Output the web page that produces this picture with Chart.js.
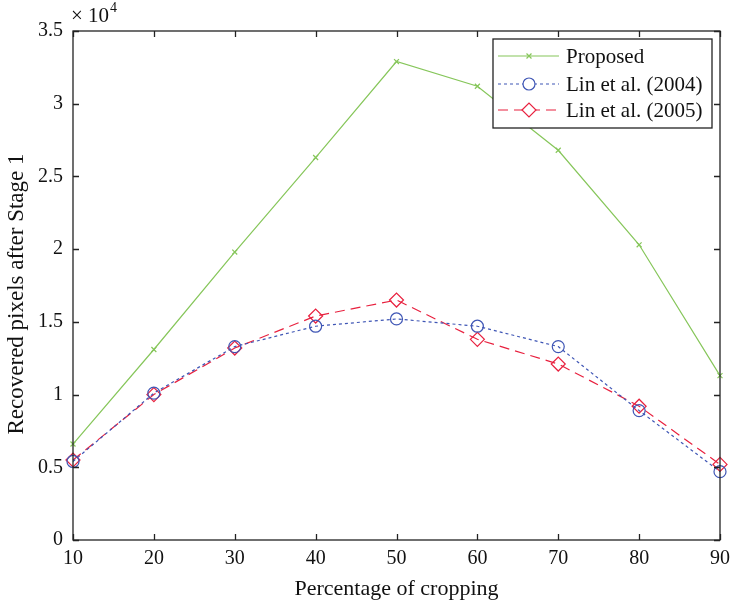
<!DOCTYPE html>
<html>
<head>
<meta charset="utf-8">
<script src="https://cdn.jsdelivr.net/npm/chart.js@4.4.1/dist/chart.umd.min.js"></script>
<style>
  html, body { margin: 0; padding: 0; background: #ffffff; }
  #wrap { width: 732px; height: 606px; position: relative; }
</style>
</head>
<body>
<div id="wrap"><canvas id="c" width="732" height="606"></canvas></div>
<script>
// Cropping percentage on the x axis
const cropping = [10, 20, 30, 40, 50, 60, 70, 80, 90];

// Recovered pixels after stage 1 for each method
const proposed = [6600, 13100, 19800, 26300, 32900, 31200, 26800, 20300, 11300];
const lin2004 = [5400, 10100, 13300, 14700, 15200, 14700, 13300, 8900, 4700];
const lin2005 = [5500, 10000, 13200, 15400, 16500, 13800, 12100, 9200, 5200];

// Axis tick labels (y shown in units of 10^4)
const xTickLabels = ['10', '20', '30', '40', '50', '60', '70', '80', '90'];
const yTickLabels = ['0', '0.5', '1', '1.5', '2', '2.5', '3', '3.5'];

const seriesNames = ['Proposed', 'Lin et al. (2004)', 'Lin et al. (2005)'];
const yTitle = 'Recovered pixels after Stage 1';

const FONT = "'Liberation Serif', 'Times New Roman', serif";
const GREEN = '#86c65a';
const BLUE = '#3f56b5';
const RED = '#e8213f';

const toPoints = vals => vals.map((v, i) => ({ x: cropping[i], y: v }));

// Frame, inward tick marks, y title, exponent label and boxed legend
const matlabFrame = {
  id: 'matlabFrame',
  afterDatasetsDraw(chart) {
    const ctx = chart.ctx;
    const a = chart.chartArea;
    const xs = chart.scales.x, ys = chart.scales.y;
    ctx.save();
    ctx.strokeStyle = '#222222';
    ctx.lineWidth = 1.3;
    ctx.setLineDash([]);
    ctx.strokeRect(a.left, a.top, a.right - a.left, a.bottom - a.top);
    const tl = 6;
    ctx.beginPath();
    xs.ticks.forEach(t => {
      const px = Math.round(xs.getPixelForValue(t.value)) + 0.5;
      ctx.moveTo(px, a.bottom); ctx.lineTo(px, a.bottom - tl);
      ctx.moveTo(px, a.top); ctx.lineTo(px, a.top + tl);
    });
    ys.ticks.forEach(t => {
      const py = Math.round(ys.getPixelForValue(t.value)) + 0.5;
      ctx.moveTo(a.left, py); ctx.lineTo(a.left + tl, py);
      ctx.moveTo(a.right, py); ctx.lineTo(a.right - tl, py);
    });
    ctx.stroke();

    // y axis title
    ctx.save();
    ctx.translate(17, 294);
    ctx.rotate(-Math.PI / 2);
    ctx.fillStyle = '#111111';
    ctx.font = '23px ' + FONT;
    ctx.textAlign = 'center';
    ctx.textBaseline = 'middle';
    ctx.fillText(yTitle, 0, 0);
    ctx.restore();

    // exponent label
    ctx.fillStyle = '#111111';
    ctx.textBaseline = 'alphabetic';
    ctx.textAlign = 'left';
    ctx.font = '21px ' + FONT;
    ctx.fillText('\u00d7 10', a.left - 2, a.top - 9);
    const w = ctx.measureText('\u00d7 10').width;
    ctx.font = '14px ' + FONT;
    ctx.fillText('4', a.left - 2 + w + 1, a.top - 19);

    // legend box
    const lx = 493, ly = 39, lw = 219, lh = 89;
    ctx.fillStyle = '#ffffff';
    ctx.fillRect(lx, ly, lw, lh);
    ctx.strokeStyle = '#222222';
    ctx.lineWidth = 1.3;
    ctx.strokeRect(lx, ly, lw, lh);
    const rows = [56, 84, 110];
    chart.data.datasets.forEach((ds, i) => {
      const y = rows[i];
      ctx.save();
      ctx.strokeStyle = ds.borderColor;
      ctx.lineWidth = ds.borderWidth;
      ctx.setLineDash(ds.borderDash || []);
      ctx.beginPath();
      ctx.moveTo(498, y); ctx.lineTo(559, y);
      ctx.stroke();
      ctx.setLineDash([]);
      ctx.strokeStyle = ds.pointBorderColor;
      ctx.fillStyle = '#ffffff';
      ctx.lineWidth = ds.pointBorderWidth;
      Chart.helpers.drawPoint(ctx, {
        pointStyle: ds.pointStyle, radius: ds.pointRadius,
        rotation: 0, borderWidth: ds.pointBorderWidth
      }, 529, y);
      ctx.restore();
      ctx.fillStyle = '#111111';
      ctx.font = '21px ' + FONT;
      ctx.textBaseline = 'middle';
      ctx.fillText(ds.label, 566, y + 1);
    });
    ctx.restore();
  }
};

new Chart(document.getElementById('c'), {
  type: 'line',
  data: {
    datasets: [
      {
        label: seriesNames[0], data: toPoints(proposed),
        borderColor: GREEN, borderWidth: 1.2, borderDash: [],
        pointStyle: 'crossRot', pointRadius: 3.5, pointBorderWidth: 1.2,
        pointBorderColor: GREEN, pointBackgroundColor: GREEN,
        tension: 0, clip: false
      },
      {
        label: seriesNames[1], data: toPoints(lin2004),
        borderColor: BLUE, borderWidth: 1.2, borderDash: [3, 3],
        pointStyle: 'circle', pointRadius: 6, pointBorderWidth: 1.2,
        pointBorderColor: BLUE, pointBackgroundColor: 'rgba(0,0,0,0)',
        tension: 0, clip: false
      },
      {
        label: seriesNames[2], data: toPoints(lin2005),
        borderColor: RED, borderWidth: 1.2, borderDash: [10, 6],
        pointStyle: 'rectRot', pointRadius: 7, pointBorderWidth: 1.2,
        pointBorderColor: RED, pointBackgroundColor: 'rgba(0,0,0,0)',
        tension: 0, clip: false
      }
    ]
  },
  options: {
    responsive: false,
    animation: false,
    devicePixelRatio: 1,
    layout: { padding: { left: 0, top: 31, right: 12, bottom: 0 } },
    plugins: { legend: { display: false }, tooltip: { enabled: false } },
    scales: {
      x: {
        type: 'linear', min: 10, max: 90,
        afterFit: s => { s.height = 66; s.paddingLeft = 0; s.paddingRight = 0; },
        afterBuildTicks: s => { s.ticks = cropping.map(v => ({ value: v })); },
        grid: { display: false, drawTicks: false },
        border: { display: false },
        ticks: {
          padding: 7, color: '#111111', maxRotation: 0,
          font: { family: FONT, size: 20 },
          callback: (v, i) => xTickLabels[i]
        },
        title: {
          display: true, text: 'Percentage of cropping', color: '#111111',
          font: { family: FONT, size: 22 }, padding: { top: 0, bottom: 4 }
        }
      },
      y: {
        type: 'linear', min: 0, max: 35000,
        afterFit: s => { s.width = 73; s.paddingTop = 0; s.paddingBottom = 0; },
        afterBuildTicks: s => { s.ticks = yTickLabels.map((_, i) => ({ value: i * 5000 })); },
        grid: { display: false, drawTicks: false },
        border: { display: false },
        ticks: {
          padding: 10, color: '#111111',
          font: { family: FONT, size: 20 },
          callback: (v, i) => yTickLabels[i]
        },
        title: { display: false }
      }
    }
  },
  plugins: [matlabFrame]
});
</script>
</body>
</html>
